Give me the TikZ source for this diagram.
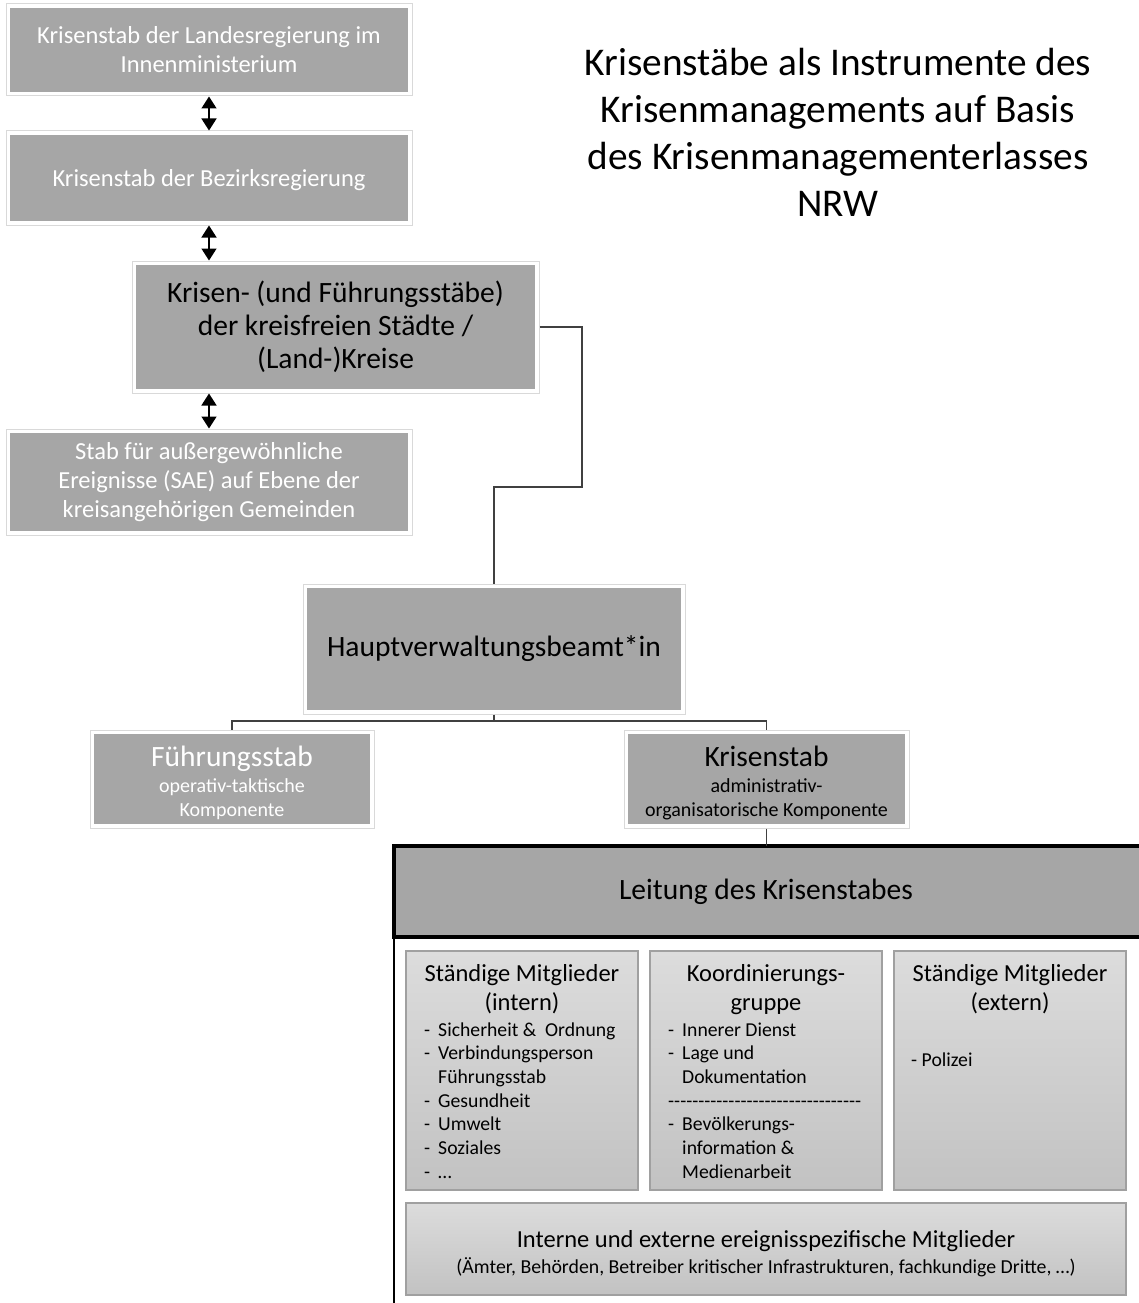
\documentclass[tikz,border=0pt]{standalone}
\usepackage{fontspec}
\setmainfont{Carlito}
\usetikzlibrary{arrows.meta,calc}
\definecolor{boxdark}{HTML}{A6A6A6}
\definecolor{framecol}{HTML}{D9D9D9}
\definecolor{linecol}{HTML}{404040}
\definecolor{lighttop}{HTML}{DCDCDC}
\definecolor{lightbot}{HTML}{C2C2C2}
\definecolor{lightborder}{HTML}{A0A0A0}
\newcommand\fs[2]{\fontsize{#1}{#2}\selectfont}
\begin{document}
\begin{tikzpicture}[x=1pt,y=-1pt,
  framebox/.style={draw=framecol, line width=1pt, inner sep=0pt, align=center,
    path picture={\fill[boxdark] ($(path picture bounding box.north west)+(4,4)$) rectangle ($(path picture bounding box.south east)+(-4,-4)$);}},
  lightbox/.style={draw=lightborder, line width=1.2pt, top color=lighttop, bottom color=lightbot, inner sep=0pt, align=center},
  conn/.style={draw=linecol, line width=1.5pt},
  dbl/.style={line width=1.5pt, {Triangle[width=15pt,length=12pt]}-{Triangle[width=15pt,length=12pt]}},
  txt/.style={inner sep=0pt, align=center}
]
\useasboundingbox (0,0) rectangle (1139,1303);

% title
\node[txt, font={\fs{39.3}{47}}] (title) at (838,132) {Krisenstäbe als Instrumente des\\Krisenmanagements auf Basis\\des Krisenmanagementerlasses\\NRW};

% left column
\node[framebox, minimum width=406pt, minimum height=92pt, text=white, font={\fs{24.5}{29}}] (b1) at (209,50) {Krisenstab der Landesregierung im\\Innenministerium};
\node[framebox, minimum width=406pt, minimum height=94pt, text=white, font={\fs{24.5}{29}}] (b2) at (209,178) {\rule{0pt}{22pt}Krisenstab der Bezirksregierung};
\node[framebox, minimum width=407pt, minimum height=132pt, text=black, font={\fs{29.5}{33}}] (b3) at (335.5,327) {Krisen- (und Führungsstäbe)\\der kreisfreien Städte /\\(Land-)Kreise};
\node[framebox, minimum width=406pt, minimum height=106pt, text=white, font={\fs{24.5}{29}}] (b4) at (209,482) {Stab für außergewöhnliche\\Ereignisse (SAE) auf Ebene der\\kreisangehörigen Gemeinden};

\draw[dbl] (b1.south) -- (b2.north);
\draw[dbl] (b2.south) -- (b2.south |- b3.north);
\draw[dbl] (b3.south -| b4.north) -- (b4.north);

% Hauptverwaltungsbeamt*in
\node[framebox, minimum width=382pt, minimum height=130pt, text=black, font={\fs{29.5}{34}}] (b5) at (494,649) {Hauptverwaltungsbeamt*in};
\coordinate (c1) at (582,487);
\draw[conn] (b3.east) -| (c1) -| (b5.north);

\node[framebox, minimum width=284pt, minimum height=98pt, text=white, font={\fs{20}{23.5}}] (b6) at (232,779) {{\fs{29.5}{30}\rule{0pt}{28pt}Führungsstab}\\[3pt]operativ-taktische\\Komponente};
\node[framebox, minimum width=285pt, minimum height=98pt, text=black, font={\fs{20}{23.5}}] (b7) at (766.5,779) {{\fs{29.5}{30}\rule{0pt}{28pt}Krisenstab}\\[3pt]administrativ-\\organisatorische Komponente};
\coordinate (tj) at (494,721);
\draw[conn] (b5.south) -- (tj);
\draw[conn] (b6.north) |- (tj) -| (b7.north);

% Leitung
\node[draw=black, line width=4pt, fill=boxdark, outer sep=0pt, inner sep=0pt, minimum width=751pt, minimum height=91pt, font={\fs{29.5}{33}}] (lei) at (769.5,891.5) {\hspace*{-7pt}Leitung des Krisenstabes};
\draw[conn] (b7.south) -- (lei.north -| b7.south);
\coordinate (lend) at (394,1310);
\draw[line width=2pt] (lei.south west) -- (lend);

% light boxes
\node[lightbox, minimum width=232pt, minimum height=239pt] (b9) at (522,1070.5) {};
\node[lightbox, minimum width=232pt, minimum height=239pt] (b10) at (766,1070.5) {};
\node[lightbox, minimum width=232pt, minimum height=239pt] (b11) at (1010,1070.5) {};
\node[lightbox, minimum width=720pt, minimum height=92pt, font={\fs{19.8}{26}}] (b12) at (766,1249) {{\fs{24.5}{26}\rule{0pt}{26pt}Interne und externe ereignisspezifische Mitglieder}\\(Ämter, Behörden, Betreiber kritischer Infrastrukturen, fachkundige Dritte, …)};

\node[txt, font={\fs{24.5}{29}}] (t9) at (522,989.5) {Ständige Mitglieder\\(intern)};
\node[txt, font={\fs{24.5}{29}}] (t10) at (766,989.5) {Koordinierungs-\\gruppe};
\node[txt, font={\fs{24.5}{29}}] (t11) at (1010,989.5) {Ständige Mitglieder\\(extern)};

\node[inner sep=0pt, anchor=base west, font={\fs{19.7}{23.67}}] (l9) at (424,1036) {\begin{tabular}[t]{@{}l@{\hspace{8pt}}l@{}}
-&Sicherheit \&\ \ Ordnung\\
-&Verbindungsperson\\
 &Führungsstab\\
-&Gesundheit\\
-&Umwelt\\
-&Soziales\\
-&…
\end{tabular}};
\node[inner sep=0pt, anchor=base west, font={\fs{19.7}{23.67}}] (l10) at (668,1036) {\begin{tabular}[t]{@{}l@{\hspace{8pt}}l@{}}
-&Innerer Dienst\\
-&Lage und\\
 &Dokumentation\\
\multicolumn{2}{@{}l@{}}{-{}-{}-{}-{}-{}-{}-{}-{}-{}-{}-{}-{}-{}-{}-{}-{}-{}-{}-{}-{}-{}-{}-{}-{}-{}-{}-{}-{}-{}-{}-{}-}\\
-&Bevölkerungs-\\
 &information \&\\
 &Medienarbeit
\end{tabular}};
\node[inner sep=0pt, anchor=base west, font={\fs{19.7}{23.67}}] (l11) at (911,1066) {- Polizei};
\end{tikzpicture}
\end{document}
